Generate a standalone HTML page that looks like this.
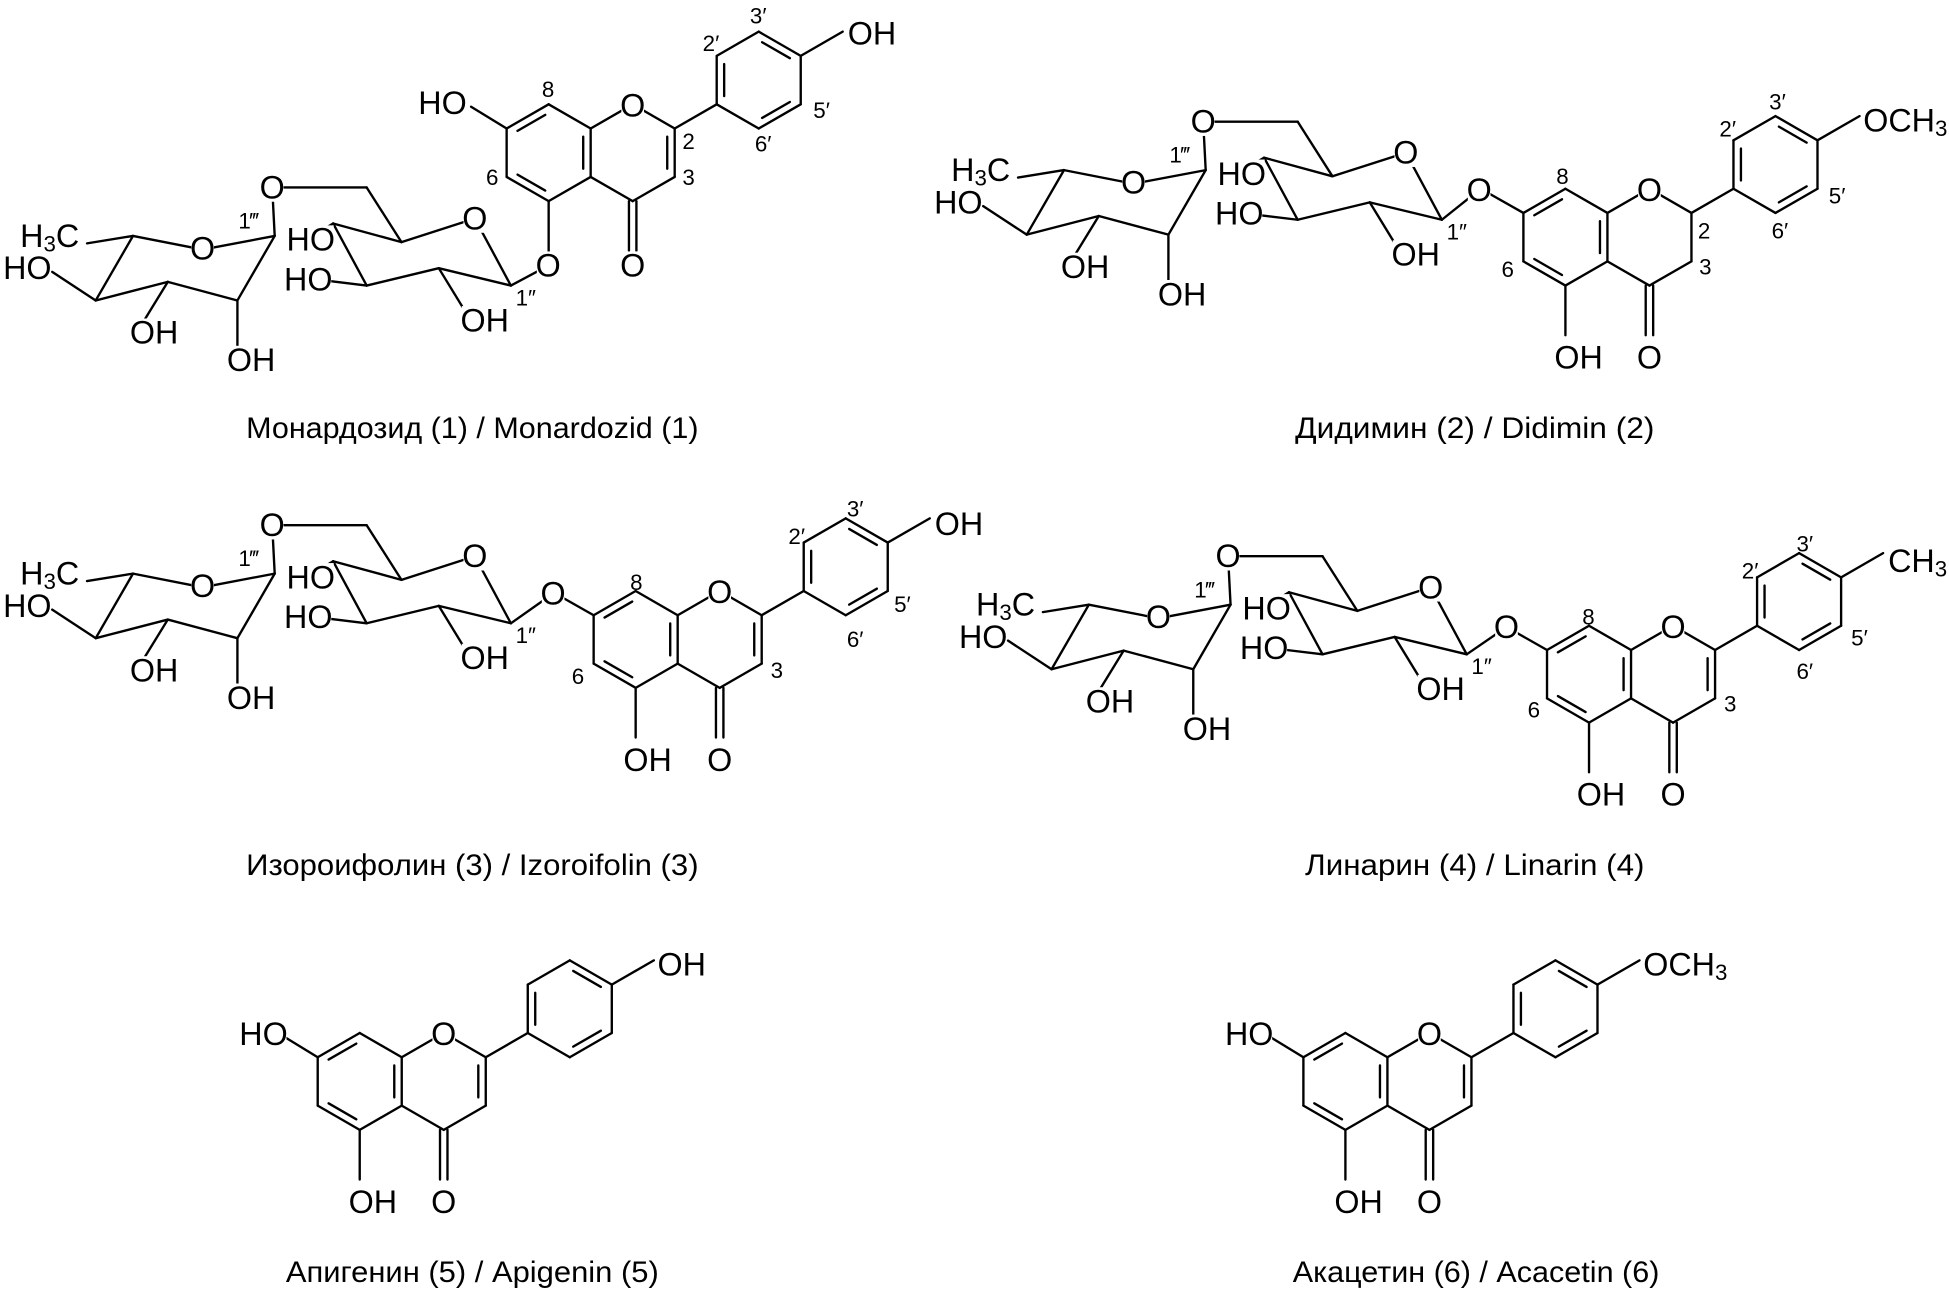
<!DOCTYPE html>
<html><head><meta charset="utf-8"><style>
html,body{margin:0;padding:0;background:#fff;}
svg{display:block;}
.t{font-family:"Liberation Sans Narrow","Liberation Sans",sans-serif;font-size:26px;fill:#000;}
.n{font-family:"Liberation Sans Narrow","Liberation Sans",sans-serif;font-size:18px;fill:#000;}
.c{font-family:"Liberation Sans Narrow","Liberation Sans",sans-serif;font-size:24px;fill:#000;}
</style></head><body>
<svg id="s" xmlns="http://www.w3.org/2000/svg" width="1949" height="1295" viewBox="0 0 1568 1043" preserveAspectRatio="none">
<rect width="1568" height="1043" fill="#fff"/>
<g id="b" stroke="#000" stroke-width="1.9" fill="none" stroke-linecap="round"></g>
<g id="m" fill="#fff"></g>
<g id="tx" dominant-baseline="central">
<text class="t" x="356" y="83" text-anchor="middle">HO</text>
<text class="t" x="509" y="85" text-anchor="middle">O</text>
<text class="t" x="509" y="214" text-anchor="middle">O</text>
<text class="t" x="441" y="214" text-anchor="middle">O</text>
<text class="t" x="682" y="27">OH</text>
<text class="n" x="441" y="72" text-anchor="middle">8</text>
<text class="n" x="396" y="143" text-anchor="middle">6</text>
<text class="n" x="554" y="114" text-anchor="middle">2</text>
<text class="n" x="554" y="143" text-anchor="middle">3</text>
<text class="n" x="572" y="35" text-anchor="middle">2′</text>
<text class="n" x="610" y="13" text-anchor="middle">3′</text>
<text class="n" x="661" y="89" text-anchor="middle">5′</text>
<text class="n" x="614" y="116" text-anchor="middle">6′</text>
<text class="t" x="1327" y="153" text-anchor="middle">O</text>
<text class="t" x="1327" y="288" text-anchor="middle">O</text>
<text class="t" x="1270" y="288" text-anchor="middle">OH</text>
<text class="t" x="1190" y="153" text-anchor="middle">O</text>
<text class="t" x="1499" y="97">OCH<tspan font-size="18" dy="6">3</tspan></text>
<text class="n" x="1257" y="142" text-anchor="middle">8</text>
<text class="n" x="1213" y="217" text-anchor="middle">6</text>
<text class="n" x="1371" y="186" text-anchor="middle">2</text>
<text class="n" x="1372" y="215" text-anchor="middle">3</text>
<text class="n" x="1390" y="104" text-anchor="middle">2′</text>
<text class="n" x="1430" y="82" text-anchor="middle">3′</text>
<text class="n" x="1478" y="158" text-anchor="middle">5′</text>
<text class="n" x="1432" y="186" text-anchor="middle">6′</text>
<text class="t" x="579" y="477" text-anchor="middle">O</text>
<text class="t" x="579" y="612" text-anchor="middle">O</text>
<text class="t" x="521" y="612" text-anchor="middle">OH</text>
<text class="t" x="445" y="478" text-anchor="middle">O</text>
<text class="t" x="752" y="422">OH</text>
<text class="n" x="512" y="469" text-anchor="middle">8</text>
<text class="n" x="465" y="545" text-anchor="middle">6</text>
<text class="n" x="625" y="540" text-anchor="middle">3</text>
<text class="n" x="641" y="432" text-anchor="middle">2′</text>
<text class="n" x="688" y="410" text-anchor="middle">3′</text>
<text class="n" x="726" y="487" text-anchor="middle">5′</text>
<text class="n" x="688" y="515" text-anchor="middle">6′</text>
<text class="t" x="1346" y="505" text-anchor="middle">O</text>
<text class="t" x="1346" y="640" text-anchor="middle">O</text>
<text class="t" x="1288" y="640" text-anchor="middle">OH</text>
<text class="t" x="1212" y="505" text-anchor="middle">O</text>
<text class="t" x="1519" y="452">CH<tspan font-size="18" dy="6">3</tspan></text>
<text class="n" x="1278" y="497" text-anchor="middle">8</text>
<text class="n" x="1234" y="572" text-anchor="middle">6</text>
<text class="n" x="1392" y="567" text-anchor="middle">3</text>
<text class="n" x="1408" y="460" text-anchor="middle">2′</text>
<text class="n" x="1452" y="438" text-anchor="middle">3′</text>
<text class="n" x="1496" y="514" text-anchor="middle">5′</text>
<text class="n" x="1452" y="541" text-anchor="middle">6′</text>
<text class="t" x="212" y="833" text-anchor="middle">HO</text>
<text class="t" x="357" y="833" text-anchor="middle">O</text>
<text class="t" x="357" y="968" text-anchor="middle">O</text>
<text class="t" x="300" y="968" text-anchor="middle">OH</text>
<text class="t" x="529" y="777">OH</text>
<text class="t" x="1005" y="833" text-anchor="middle">HO</text>
<text class="t" x="1150" y="833" text-anchor="middle">O</text>
<text class="t" x="1150" y="968" text-anchor="middle">O</text>
<text class="t" x="1093" y="968" text-anchor="middle">OH</text>
<text class="t" x="1322" y="777">OCH<tspan font-size="18" dy="6">3</tspan></text>
<g transform="translate(0,0)">
<text class="t" x="40" y="190" text-anchor="middle">H<tspan font-size="18" dy="6">3</tspan><tspan dy="-6">C</tspan></text>
<text class="t" x="22" y="216" text-anchor="middle">HO</text>
<text class="t" x="163" y="200" text-anchor="middle">O</text>
<text class="t" x="124" y="268" text-anchor="middle">OH</text>
<text class="t" x="202" y="290" text-anchor="middle">OH</text>
<text class="t" x="219" y="151" text-anchor="middle">O</text>
<text class="t" x="250" y="193" text-anchor="middle">HO</text>
<text class="t" x="248" y="225" text-anchor="middle">HO</text>
<text class="t" x="382" y="176" text-anchor="middle">O</text>
<text class="t" x="390" y="258" text-anchor="middle">OH</text>
<text class="n" x="200" y="178" text-anchor="middle">1‴</text>
<text class="n" x="423" y="240" text-anchor="middle">1″</text>
</g>
<g transform="translate(749,-53)">
<text class="t" x="40" y="190" text-anchor="middle">H<tspan font-size="18" dy="6">3</tspan><tspan dy="-6">C</tspan></text>
<text class="t" x="22" y="216" text-anchor="middle">HO</text>
<text class="t" x="163" y="200" text-anchor="middle">O</text>
<text class="t" x="124" y="268" text-anchor="middle">OH</text>
<text class="t" x="202" y="290" text-anchor="middle">OH</text>
<text class="t" x="219" y="151" text-anchor="middle">O</text>
<text class="t" x="250" y="193" text-anchor="middle">HO</text>
<text class="t" x="248" y="225" text-anchor="middle">HO</text>
<text class="t" x="382" y="176" text-anchor="middle">O</text>
<text class="t" x="390" y="258" text-anchor="middle">OH</text>
<text class="n" x="200" y="178" text-anchor="middle">1‴</text>
<text class="n" x="423" y="240" text-anchor="middle">1″</text>
</g>
<g transform="translate(0,272)">
<text class="t" x="40" y="190" text-anchor="middle">H<tspan font-size="18" dy="6">3</tspan><tspan dy="-6">C</tspan></text>
<text class="t" x="22" y="216" text-anchor="middle">HO</text>
<text class="t" x="163" y="200" text-anchor="middle">O</text>
<text class="t" x="124" y="268" text-anchor="middle">OH</text>
<text class="t" x="202" y="290" text-anchor="middle">OH</text>
<text class="t" x="219" y="151" text-anchor="middle">O</text>
<text class="t" x="250" y="193" text-anchor="middle">HO</text>
<text class="t" x="248" y="225" text-anchor="middle">HO</text>
<text class="t" x="382" y="176" text-anchor="middle">O</text>
<text class="t" x="390" y="258" text-anchor="middle">OH</text>
<text class="n" x="200" y="178" text-anchor="middle">1‴</text>
<text class="n" x="423" y="240" text-anchor="middle">1″</text>
</g>
<g transform="translate(769,297)">
<text class="t" x="40" y="190" text-anchor="middle">H<tspan font-size="18" dy="6">3</tspan><tspan dy="-6">C</tspan></text>
<text class="t" x="22" y="216" text-anchor="middle">HO</text>
<text class="t" x="163" y="200" text-anchor="middle">O</text>
<text class="t" x="124" y="268" text-anchor="middle">OH</text>
<text class="t" x="202" y="290" text-anchor="middle">OH</text>
<text class="t" x="219" y="151" text-anchor="middle">O</text>
<text class="t" x="250" y="193" text-anchor="middle">HO</text>
<text class="t" x="248" y="225" text-anchor="middle">HO</text>
<text class="t" x="382" y="176" text-anchor="middle">O</text>
<text class="t" x="390" y="258" text-anchor="middle">OH</text>
<text class="n" x="200" y="178" text-anchor="middle">1‴</text>
<text class="n" x="423" y="240" text-anchor="middle">1″</text>
</g>
</g>
<g dominant-baseline="central">
<text class="c" x="198" y="345" textLength="364" lengthAdjust="spacingAndGlyphs">Монардозид (1) / Monardozid (1)</text>
<text class="c" x="1042" y="345" textLength="289" lengthAdjust="spacingAndGlyphs">Дидимин (2) / Didimin (2)</text>
<text class="c" x="198" y="697" textLength="364" lengthAdjust="spacingAndGlyphs">Изороифолин (3) / Izoroifolin (3)</text>
<text class="c" x="1050" y="697" textLength="273" lengthAdjust="spacingAndGlyphs">Линарин (4) / Linarin (4)</text>
<text class="c" x="230" y="1025" textLength="300" lengthAdjust="spacingAndGlyphs">Апигенин (5) / Apigenin (5)</text>
<text class="c" x="1040" y="1025" textLength="295" lengthAdjust="spacingAndGlyphs">Акацетин (6) / Acacetin (6)</text>
</g>
</svg>
<script>
(function(){
var g=document.getElementById('b'),m=document.getElementById('m');
var NS='http://www.w3.org/2000/svg';
function L(a,b,c,d){var l=document.createElementNS(NS,'line');l.setAttribute('x1',a);l.setAttribute('y1',b);l.setAttribute('x2',c);l.setAttribute('y2',d);g.appendChild(l);}
function B(p,q){L(p[0],p[1],q[0],q[1]);}
function D(p,q,c){
 var mx=(p[0]+q[0])/2,my=(p[1]+q[1])/2,vx=c[0]-mx,vy=c[1]-my,n=Math.hypot(vx,vy);vx=vx/n*6;vy=vy/n*6;
 var s=0.17;var ax=p[0]+(q[0]-p[0])*s+vx,ay=p[1]+(q[1]-p[1])*s+vy,bx=q[0]+(p[0]-q[0])*s+vx,by=q[1]+(p[1]-q[1])*s+vy;L(ax,ay,bx,by);}
var w=33.8,h=19.5;
function core(ox,oy,o){
 var O1=[ox,oy],C2=[ox+w,oy+h],C3=[ox+w,oy+3*h],C4=[ox,oy+4*h],C4a=[ox-w,oy+3*h],C8a=[ox-w,oy+h],
 C8=[ox-2*w,oy],C7=[ox-3*w,oy+h],C6=[ox-3*w,oy+3*h],C5=[ox-2*w,oy+4*h];
 var cA=[ox-2*w,oy+2*h],cC=[ox,oy+2*h];
 B(O1,C2);B(C2,C3);B(C3,C4);B(C4,C4a);B(C4a,C8a);B(C8a,O1);B(C8a,C8);B(C8,C7);B(C7,C6);B(C6,C5);B(C5,C4a);
 D(C7,C8,cA);D(C4a,C8a,cA);D(C5,C6,cA);if(!o.flavanone)D(C2,C3,cC);
 L(ox-3,C4[1],ox-3,C4[1]+40);L(ox+3,C4[1],ox+3,C4[1]+40);
 if(o.c5=='OH'){L(C5[0],C5[1],C5[0],C5[1]+40);}
 if(o.c5=='link'){L(C5[0],C5[1],C5[0],C5[1]+52);}
 if(o.c7=='OH'){L(C7[0],C7[1],ox-130,oy+2);}
 if(o.c7=='link'){L(C7[0],C7[1],ox-134,oy+1);}
 var a=[ox+2*w,oy],b=[ox+2*w,oy-2*h],c=[ox+3*w,oy-3*h],d=[ox+4*w,oy-2*h],e=[ox+4*w,oy],f=[ox+3*w,oy+h],cB=[ox+3*w,oy-h];
 B(C2,a);B(a,b);B(b,c);B(c,d);B(d,e);B(e,f);B(f,a);D(a,b,cB);D(c,d,cB);D(e,f,cB);
 L(d[0],d[1],ox+5*w,oy-3*h);
}
function sugar(dx,dy,lk){
 function P(x,y){return [x+dx,y+dy];}
 var C5r=P(107,190),C4r=P(77,242),C3r=P(135,227),C2r=P(191,242),C1r=P(221,190),Or=P(163,201);
 var tO=P(219,151),cc=P(295,151),C5g=P(323,195),Og=P(382,176),C1g=P(411,230),C2g=P(353,216),C3g=P(295,230),C4g=P(268,180);
 B(C5r,P(70,196));B(C5r,Or);B(C1r,Or);B(C5r,C4r);B(C4r,P(42,219));B(C4r,C3r);B(C3r,P(116,258));B(C3r,C2r);B(C2r,P(191,280));B(C2r,C1r);
 B(C1r,tO);B(tO,cc);B(cc,C5g);B(C5g,Og);B(Og,C1g);B(C1g,C2g);B(C2g,P(375,252));B(C2g,C3g);B(C3g,P(262,226));B(C3g,C4g);B(C4g,P(248,192));B(C4g,C5g);
 B(C1g,lk);
}
core(509,84,{c5:'link',c7:'OH'});sugar(0,0,[441,214]);
core(1327,152,{flavanone:1,c5:'OH',c7:'link'});sugar(749,-53,[1190,153]);
core(579,476,{c5:'OH',c7:'link'});sugar(0,272,[445,478]);
core(1346,504,{c5:'OH',c7:'link'});sugar(769,297,[1212,505]);
core(357,832,{c5:'OH',c7:'OH'});
core(1150,832,{c5:'OH',c7:'OH'});
// white masks behind atom labels
var ts=document.querySelectorAll('#tx text.t');
for(var i=0;i<ts.length;i++){
 var t=ts[i],bb=t.getBBox(),tr=t.parentNode.getAttribute('transform')||'',dx=0,dy=0;
 var mm=/translate\(([-\d.]+),([-\d.]+)\)/.exec(tr);if(mm){dx=+mm[1];dy=+mm[2];}
 var r=document.createElementNS(NS,'rect');
 r.setAttribute('x',bb.x+dx+1);r.setAttribute('y',bb.y+dy+3);r.setAttribute('width',Math.max(0,bb.width-2));r.setAttribute('height',Math.max(0,bb.height-6));
 m.appendChild(r);
}
})();
</script>
</body></html>
